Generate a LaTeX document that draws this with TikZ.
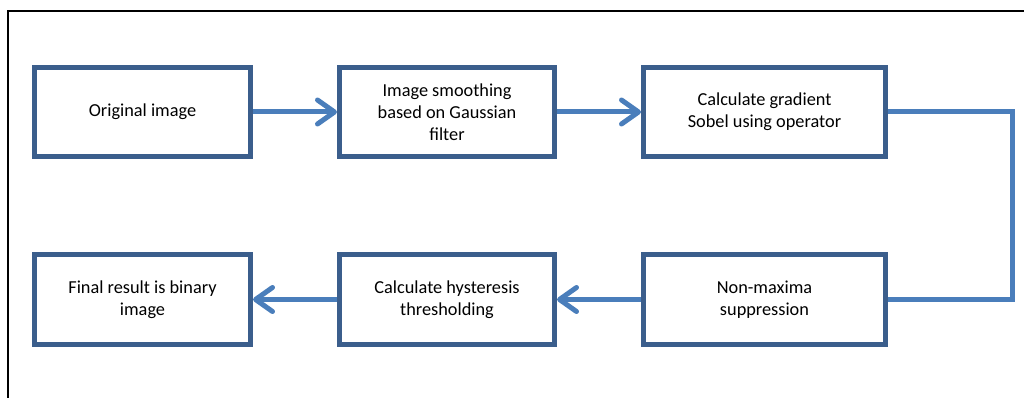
\documentclass[tikz,border=0pt]{standalone}
\usepackage{fontspec}
\setmainfont{Carlito}
\usetikzlibrary{arrows.meta}
\definecolor{boxblue}{HTML}{3B5E8C}
\definecolor{arrblue}{HTML}{4A7EBB}
\begin{document}
\begin{tikzpicture}[x=1pt,y=-1pt,
  stepbox/.style={draw=boxblue,line width=5pt,fill=white,align=center,
    inner sep=0pt,font=\fontsize{18.3}{22}\selectfont},
  flow/.style={draw=arrblue,line width=5pt,
    -{Straight Barb[length=17pt,width=24pt,line cap=round,line join=round]}},
  link/.style={draw=arrblue,line width=5pt}]
\useasboundingbox (0,0) rectangle (1024,398);
\fill[white] (0,0) rectangle (1024,398);
\draw[line width=2pt,black] (8,400) -- (8,11) -- (1026,11);
\node[stepbox,minimum width=216pt,minimum height=89pt] (a) at (142.5,112) {Original image};
\node[stepbox,minimum width=215pt,minimum height=89pt] (b) at (447,112) {Image smoothing\\based on Gaussian\\filter};
\node[stepbox,minimum width=242pt,minimum height=89pt] (c) at (764.5,112) {Calculate gradient\\Sobel using operator};
\node[stepbox,minimum width=242pt,minimum height=90pt] (d) at (764.5,299.5) {Non-maxima\\suppression};
\node[stepbox,minimum width=215pt,minimum height=90pt] (e) at (447,299.5) {Calculate hysteresis\\thresholding};
\node[stepbox,minimum width=216pt,minimum height=90pt] (f) at (142.5,299.5) {Final result is binary\\image};
\coordinate (r1) at (1012,112);
\coordinate (r2) at (1012,299.5);
\draw[flow] (a.east) -- (b.west);
\draw[flow] (b.east) -- (c.west);
\draw[link,line join=miter] (c.east) -- (r1) -- (r2) -- (d.east);
\draw[flow] (d.west) -- (e.east);
\draw[flow] (e.west) -- (f.east);
\end{tikzpicture}
\end{document}
